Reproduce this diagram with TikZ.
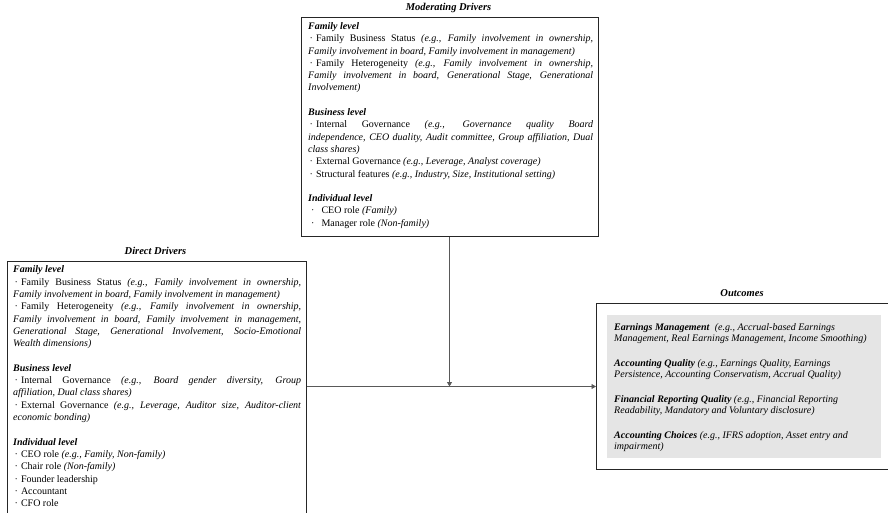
\documentclass[tikz,border=0pt]{standalone}
\usepackage{fontspec}
\setmainfont{Liberation Serif}
\usetikzlibrary{arrows.meta}
\newcommand{\bul}{\hspace*{1.5pt}\textperiodcentered\hspace{3pt}}
\newcommand{\bulw}{\hspace*{3pt}\textperiodcentered\hspace{7pt}}
\newcommand{\lvl}[1]{\textbf{\textit{#1}}}
\newcommand{\jl}[1]{\hbox to\hsize{#1}}
\newcommand{\lastl}[1]{\hbox{#1}}
\newcommand{\blankl}{\hbox{}}
\begin{document}
\begin{tikzpicture}[x=1pt,y=-1pt,
  frame/.style={draw=black!85, line width=1pt, inner sep=0pt, anchor=north west},
  graybox/.style={fill=black!10, draw=none, inner sep=0pt, anchor=north west},
  boxtitle/.style={font=\fontsize{10.5}{12}\selectfont\bfseries\itshape, inner sep=0pt},
  body/.style={inner sep=0pt, anchor=north west, font=\fontsize{10}{12.3}\selectfont},
  outbody/.style={inner sep=0pt, anchor=north west, align=left, font=\fontsize{10}{11.8}\selectfont},
  conn/.style={draw=black!65, line width=0.8pt, -{Triangle[length=4.5pt,width=5pt]}}]
\useasboundingbox (0,0) rectangle (888,512);

% boxes
\node[frame, minimum width=297pt, minimum height=219pt] (mod) at (300.5,17) {};
\node[frame, minimum width=299pt, minimum height=260pt] (dir) at (6.5,261) {};
\node[frame, minimum width=292pt, minimum height=166pt] (out) at (596,303) {};
\node[graybox, minimum width=274pt, minimum height=143pt] (gray) at (607,315) {};

% titles
\node[boxtitle] (modt) at (448.5,8) {Moderating Drivers};
\node[boxtitle] (dirt) at (155.5,251) {Direct Drivers};
\node[boxtitle] (outt) at (742,293) {Outcomes};

% moderating text
\node[body] (modtext) at (308,22.3) {\vbox{\hsize=285pt\baselineskip=12.3pt
\lastl{\lvl{Family level}}
\jl{\bul Family Business Status \textit{(e.g., Family involvement in ownership,}}
\lastl{\textit{Family involvement in board, Family involvement in management)}}
\jl{\bul Family Heterogeneity \textit{(e.g., Family involvement in ownership,}}
\jl{\textit{Family involvement in board, Generational Stage, Generational}}
\lastl{\textit{Involvement)}}
\blankl
\lastl{\lvl{Business level}}
\jl{\bul Internal Governance \textit{(e.g., Governance quality Board}}
\jl{\textit{independence, CEO duality, Audit committee, Group affiliation, Dual}}
\lastl{\textit{class shares)}}
\lastl{\bul External Governance \textit{(e.g., Leverage, Analyst coverage)}}
\lastl{\bul Structural features \textit{(e.g., Industry, Size, Institutional setting)}}
\blankl
\lastl{\lvl{Individual level}}
\lastl{\bulw CEO role \textit{(Family)}}
\lastl{\bulw Manager role \textit{(Non-family)}}}};

% direct text
\node[body] (dirtext) at (13,265.8) {\vbox{\hsize=288pt\baselineskip=12.3pt
\lastl{\lvl{Family level}}
\jl{\bul Family Business Status \textit{(e.g., Family involvement in ownership,}}
\lastl{\textit{Family involvement in board, Family involvement in management)}}
\jl{\bul Family Heterogeneity \textit{(e.g., Family involvement in ownership,}}
\jl{\textit{Family involvement in board, Family involvement in management,}}
\jl{\textit{Generational Stage, Generational Involvement, Socio-Emotional}}
\lastl{\textit{Wealth dimensions)}}
\blankl
\lastl{\lvl{Business level}}
\jl{\bul Internal Governance \textit{(e.g., Board gender diversity, Group}}
\lastl{\textit{affiliation, Dual class shares)}}
\jl{\bul External Governance \textit{(e.g., Leverage, Auditor size, Auditor-client}}
\lastl{\textit{economic bonding)}}
\blankl
\lastl{\lvl{Individual level}}
\lastl{\bul CEO role \textit{(e.g., Family, Non-family)}}
\lastl{\bul Chair role \textit{(Non-family)}}
\lastl{\bul Founder leadership}
\lastl{\bul Accountant}
\lastl{\bul CFO role}}};

% outcomes text
\node[outbody] (outtext) at (614,323) {%
\lvl{Earnings Management}~ \textit{(e.g., Accrual-based Earnings}\\
\textit{Management, Real Earnings Management, Income Smoothing)}\\[12.4pt]
\lvl{Accounting Quality} \textit{(e.g., Earnings Quality, Earnings}\\
\textit{Persistence, Accounting Conservatism, Accrual Quality)}\\[12.4pt]
\lvl{Financial Reporting Quality} \textit{(e.g., Financial Reporting}\\
\textit{Readability, Mandatory and Voluntary disclosure)}\\[12.4pt]
\lvl{Accounting Choices} \textit{(e.g., IFRS adoption, Asset entry and}\\
\textit{impairment)}};

% connectors
\coordinate (meet) at (mod.south |- out.west);
\draw[conn] (dir.east |- out.west) -- (out.west);
\draw[conn] (mod.south) -- (meet);
\end{tikzpicture}
\end{document}
